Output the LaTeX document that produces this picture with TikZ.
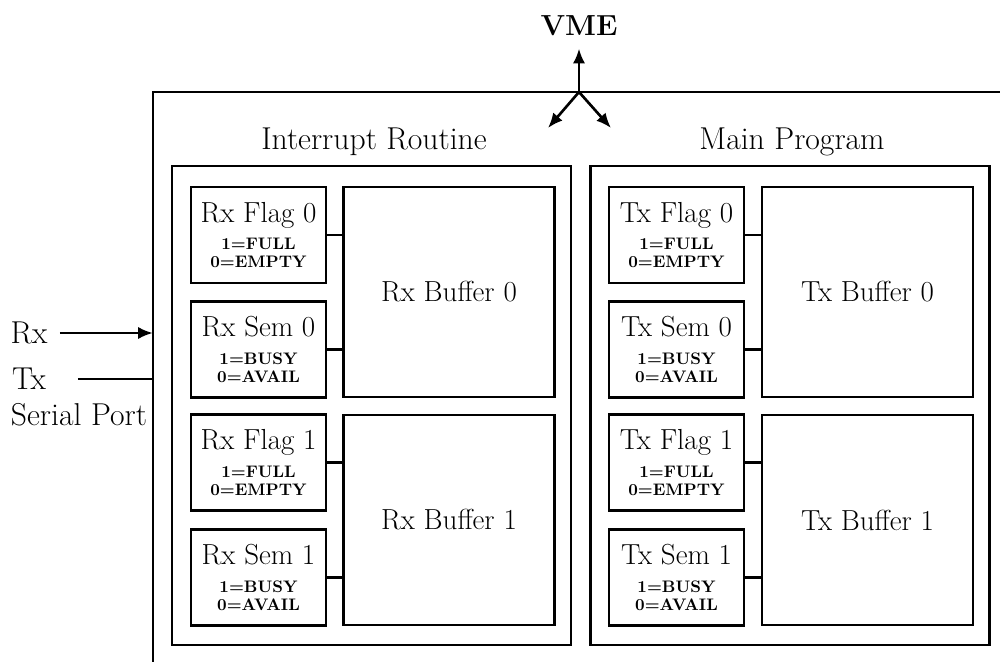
\documentclass[tikz,border=0pt]{standalone}
\usepackage{fontspec}
\usepackage{amsmath,amssymb}
\usetikzlibrary{arrows.meta}

\newcommand{\boxlbl}[3]{{\fontsize{16.5}{19}\selectfont\mdseries #1}\\[5.5pt] #2\\ #3}

\tikzset{
  flagbox/.style={draw, minimum width=2.7cm, minimum height=1.92cm, inner sep=0pt, align=center,
    font=\fontsize{9.5}{10.2}\selectfont\bfseries\addfontfeature{LetterSpace=14}},
  bufbox/.style={draw, minimum width=4.22cm, minimum height=4.2cm},
  panel/.style={draw, minimum width=7.98cm, minimum height=9.58cm},
  title/.style={font=\fontsize{18}{21}\selectfont},
  tip/.style={-{Latex[length=8.5pt,width=7pt]}}
}

\begin{document}
\begin{tikzpicture}[x=0.02cm, y=-0.02cm, line width=1.5pt, font=\fontsize{16.5}{19}\selectfont]
  \useasboundingbox (0,0) rectangle (1000,662);

  % outer frame and VME
  \coordinate (fbl) at (153,662);
  \coordinate (ftl) at (153,92);
  \coordinate (ftr) at (1000,92);
  \draw [line width=1.7pt] (fbl) -- (ftl) -- (ftr);
  \node [font=\fontsize{16.5}{19}\selectfont\bfseries] (vme) at (579,26) {VME};
  \coordinate (vmej) at (579,92);
  \coordinate (vmel) at (548,128);
  \coordinate (vmer) at (611,128);
  \draw [tip] (vmej) -- ([yshift=-3pt]vme.south);
  \draw [tip] (vmej) -- (vmel);
  \draw [tip] (vmej) -- (vmer);

  % serial port
  \node [title] (rx) at (29,333) {Rx};
  \node [title] (tx) at (29,379) {Tx};
  \node [title] (serial) at (79,415) {Serial Port};
  \draw [tip, shorten <=3pt] (rx) -- (rx -| ftl);
  \draw [shorten <=14pt] (tx) -- (tx -| ftl);

  % interrupt routine
  \node [panel] (rxpanel) at (371.5,405.5) {};
  \node [title] (rxtitle) at (374,142) {Interrupt Routine};
  \node [flagbox] (rxf0) at (258.5,235) {\boxlbl{Rx Flag 0}{1=FULL}{0=EMPTY}};
  \node [flagbox] (rxs0) at (258.5,349.5) {\boxlbl{Rx Sem 0}{1=BUSY}{0=AVAIL}};
  \node [flagbox] (rxf1) at (258.5,462.5) {\boxlbl{Rx Flag 1}{1=FULL}{0=EMPTY}};
  \node [flagbox] (rxs1) at (258.5,577.5) {\boxlbl{Rx Sem 1}{1=BUSY}{0=AVAIL}};
  \node [bufbox] (rxb0) at (449,292) {Rx Buffer 0};
  \node [bufbox] (rxb1) at (449,520) {Rx Buffer 1};
  \draw (rxf0) -- (rxf0 -| rxb0.west);
  \draw (rxs0) -- (rxs0 -| rxb0.west);
  \draw (rxf1) -- (rxf1 -| rxb1.west);
  \draw (rxs1) -- (rxs1 -| rxb1.west);

  % main program
  \node [panel] (txpanel) at (790,405.5) {};
  \node [title] (txtitle) at (792,142) {Main Program};
  \node [flagbox] (txf0) at (676.5,235) {\boxlbl{Tx Flag 0}{1=FULL}{0=EMPTY}};
  \node [flagbox] (txs0) at (676.5,349.5) {\boxlbl{Tx Sem 0}{1=BUSY}{0=AVAIL}};
  \node [flagbox] (txf1) at (676.5,462.5) {\boxlbl{Tx Flag 1}{1=FULL}{0=EMPTY}};
  \node [flagbox] (txs1) at (676.5,577.5) {\boxlbl{Tx Sem 1}{1=BUSY}{0=AVAIL}};
  \node [bufbox] (txb0) at (867.5,292) {Tx Buffer 0};
  \node [bufbox] (txb1) at (867.5,520) {Tx Buffer 1};
  \draw (txf0) -- (txf0 -| txb0.west);
  \draw (txs0) -- (txs0 -| txb0.west);
  \draw (txf1) -- (txf1 -| txb1.west);
  \draw (txs1) -- (txs1 -| txb1.west);
\end{tikzpicture}
\end{document}
